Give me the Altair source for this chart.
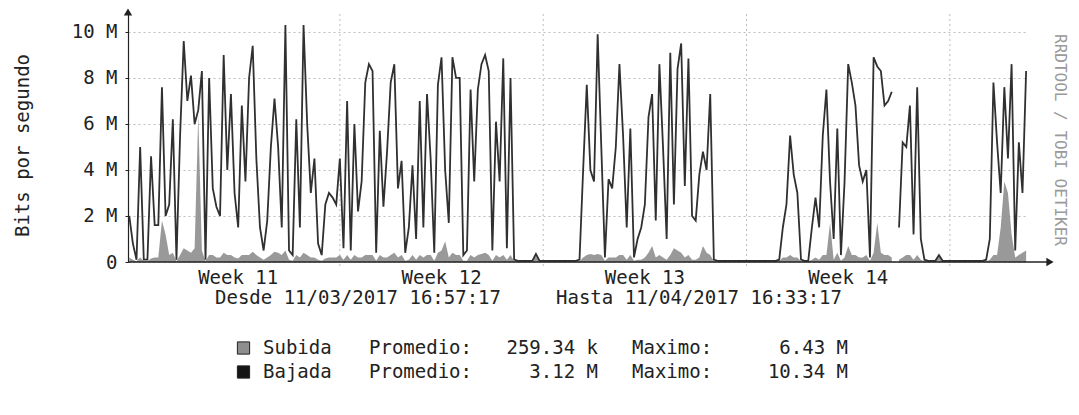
import altair as alt
import pandas as pd

FONT = "DejaVu Sans Mono"
INK = "#222222"

# ---- data (Mbit/s, one sample every 3 hours from 2017-03-11 18:00) ----
first_sample = "2017-03-11 18:00:00"
bajada = [
    2.0, 0.8, 0.1, 5.0, 0.1, 0.1, 4.6, 1.6,
    1.6, 7.6, 2.0, 2.5, 6.2, 0.1, 5.5, 9.6,
    7.0, 8.1, 6.0, 6.6, 8.3, 0.1, 8.0, 3.2,
    2.4, 2.0, 9.0, 4.0, 7.3, 3.0, 1.5, 6.8,
    3.5, 8.0, 9.4, 4.5, 1.5, 0.5, 1.8, 5.0,
    7.1, 5.0, 1.5, 10.3, 0.5, 0.3, 6.2, 1.5,
    10.3, 6.0, 3.0, 4.5, 0.8, 0.3, 2.5, 3.0,
    2.8, 2.5, 4.5, 0.6, 7.0, 0.5, 6.0, 2.2,
    3.5, 7.8, 8.6, 8.3, 0.4, 5.7, 2.4, 4.8,
    7.8, 8.6, 3.2, 4.4, 0.4, 1.5, 4.2, 1.0,
    7.0, 1.5, 7.3, 4.5, 0.4, 7.7, 8.9, 4.0,
    1.7, 8.9, 8.0, 8.0, 0.3, 0.5, 7.5, 3.5,
    7.5, 8.6, 9.0, 8.3, 0.5, 6.1, 3.5, 8.85,
    0.6, 8.0, 0.1, 0.05, 0.05, 0.05, 0.05, 0.05,
    0.35, 0.05, 0.05, 0.05, 0.05, 0.05, 0.05, 0.05,
    0.05, 0.05, 0.05, 0.05, 0.1, 4.0, 7.7, 4.0,
    3.5, 9.9, 5.0, 0.2, 3.6, 3.2, 5.0, 8.6,
    5.5, 1.5, 5.8, 0.2, 1.0, 1.5, 2.5, 6.3,
    7.3, 1.8, 8.6, 5.0, 1.0, 9.1, 2.5, 8.4,
    9.5, 3.3, 8.85, 2.0, 1.8, 3.8, 4.8, 4.0,
    7.3, 0.1, 0.05, 0.05, 0.05, 0.05, 0.05, 0.05,
    0.05, 0.05, 0.05, 0.05, 0.05, 0.05, 0.05, 0.05,
    0.05, 0.05, 0.05, 0.1, 1.5, 2.5, 5.5, 3.8,
    3.0, 0.1, 0.05, 0.05, 1.5, 2.8, 1.5, 5.5,
    7.5, 3.5, 1.0, 5.8, 0.3, 3.5, 8.6, 7.8,
    6.8, 4.2, 3.5, 4.0, 0.2, 8.9, 8.5, 8.3,
    6.8, 7.0, 7.4, None, 1.5, 5.2, 5.0, 6.8,
    1.2, 7.6, 1.0, 0.1, 0.05, 0.05, 0.05, 0.3,
    0.05, 0.05, 0.05, 0.05, 0.05, 0.05, 0.05, 0.05,
    0.05, 0.05, 0.05, 0.05, 0.1, 1.0, 7.8, 5.2,
    3.0, 7.6, 4.5, 8.6, 0.5, 5.2, 3.0, 8.3,
]
subida = [
    0.2, 0.1, 0.03, 0.2, 0.03, 0.03, 0.15, 0.2,
    0.2, 1.8, 1.2, 0.3, 0.4, 0.03, 0.3, 0.6,
    0.5, 0.4, 0.6, 6.4, 0.5, 0.03, 0.3, 0.3,
    0.2, 0.2, 0.4, 0.3, 0.3, 0.2, 0.15, 0.3,
    0.3, 0.3, 0.45, 0.3, 0.2, 0.1, 0.2, 0.3,
    0.45, 0.4, 0.3, 0.5, 0.1, 0.05, 0.3, 0.2,
    0.4, 0.3, 0.2, 0.2, 0.1, 0.05, 0.15, 0.2,
    0.2, 0.2, 0.3, 0.1, 0.3, 0.1, 0.3, 0.2,
    0.2, 0.3, 0.3, 0.3, 0.05, 0.3, 0.2, 0.2,
    0.3, 0.4, 0.2, 0.3, 0.05, 0.1, 0.3, 0.1,
    0.3, 0.2, 0.3, 0.3, 0.05, 0.4, 0.5, 0.9,
    0.2, 0.4, 0.3, 0.3, 0.05, 0.05, 0.3, 0.2,
    0.3, 0.35, 0.4, 0.3, 0.05, 0.3, 0.2, 0.3,
    0.1, 0.3, 0.03, 0.03, 0.03, 0.03, 0.03, 0.03,
    0.3, 0.03, 0.03, 0.03, 0.03, 0.03, 0.03, 0.03,
    0.03, 0.03, 0.03, 0.03, 0.03, 0.2, 0.3, 0.35,
    0.3, 0.35, 0.3, 0.05, 0.2, 0.2, 0.2, 0.3,
    0.3, 0.1, 0.3, 0.05, 0.1, 0.1, 0.2, 0.4,
    0.7, 0.2, 0.3, 0.2, 0.1, 0.3, 0.6, 0.5,
    0.4, 0.2, 0.3, 0.1, 0.1, 0.2, 0.7, 0.4,
    0.3, 0.03, 0.03, 0.03, 0.03, 0.03, 0.03, 0.03,
    0.03, 0.03, 0.03, 0.03, 0.03, 0.03, 0.03, 0.03,
    0.03, 0.03, 0.03, 0.03, 0.2, 0.2, 0.3, 0.2,
    0.2, 0.03, 0.03, 0.03, 0.1, 0.2, 0.1, 0.3,
    0.3, 1.7, 0.1, 0.4, 0.05, 0.2, 0.7, 0.3,
    0.3, 0.2, 0.2, 0.3, 0.05, 0.4, 1.7, 0.4,
    0.3, 0.3, 0.2, None, 0.1, 0.2, 0.3, 0.3,
    0.1, 0.3, 0.1, 0.03, 0.03, 0.03, 0.03, 0.3,
    0.03, 0.03, 0.03, 0.03, 0.03, 0.03, 0.03, 0.03,
    0.03, 0.03, 0.03, 0.03, 0.03, 0.1, 0.3, 0.3,
    1.5, 3.5, 3.0, 1.2, 0.2, 0.3, 0.4, 0.5,
]

week_labels = ["Week 11", "Week 12", "Week 13", "Week 14"]
week_centers = ["2017-03-15 12:00", "2017-03-22 12:00", "2017-03-29 12:00", "2017-04-05 12:00"]
sundays = ["2017-03-19", "2017-03-26", "2017-04-02", "2017-04-09"]
y_ticks = [0, 2, 4, 6, 8, 10]

series_names = ["Subida", "Bajada"]
series_colors = ["#8e8e8e", "#151515"]
promedio = ["259.34 k", "3.12 M"]
maximo = ["6.43 M", "10.34 M"]
period_texts = ["Desde 11/03/2017 16:57:17", "Hasta 11/04/2017 16:33:17"]
watermark = ["RRDTOOL / TOBI OETIKER"]

# ---- tables ----
times = pd.date_range(first_sample, periods=len(bajada), freq="3h")
df = pd.DataFrame({"t": times, "Bajada": bajada, "Subida": subida})
weeks_df = pd.DataFrame({"center": pd.to_datetime(week_centers), "label": week_labels})
sun_df = pd.DataFrame({"t": pd.to_datetime(sundays)})
legend_df = pd.DataFrame({"name": series_names, "prom": promedio, "maxv": maximo})
one = pd.DataFrame({"d": [0]})

W, H = 900, 248
xscale = alt.Scale(domain=[
    alt.DateTime(year=2017, month=3, date=11, hours=16, minutes=57, seconds=17),
    alt.DateTime(year=2017, month=4, date=11, hours=16, minutes=33, seconds=17),
])
yscale = alt.Scale(domain=[0, 10.78], nice=False, zero=True)
yaxis = alt.Axis(
    values=y_ticks,
    labelExpr="datum.value == 0 ? '0\u00a0\u00a0' : datum.value + ' M'",
    grid=True, gridColor="#bdbdbd", gridDash=[2, 3], gridWidth=1,
    domainColor=INK, domainWidth=1.2, tickColor=INK, tickSize=3,
    labelFont=FONT, labelFontSize=19, labelColor=INK, labelPadding=8,
    title="Bits por segundo", titleFont=FONT, titleFontSize=19,
    titleFontWeight="normal", titleColor=INK, titleX=-106, titleY=131,
    titleAngle=270, titleAlign="center", titleBaseline="middle",
)

area = alt.Chart(df).mark_area(color="#8e8e8e", opacity=0.9).encode(
    x=alt.X("t:T", scale=xscale, axis=None),
    y=alt.Y("Subida:Q", scale=yscale, axis=yaxis),
)
line = alt.Chart(df).mark_line(color="#303030", strokeWidth=1.8).encode(
    x=alt.X("t:T", scale=xscale, axis=None),
    y=alt.Y("Bajada:Q", scale=yscale, axis=yaxis),
)
sun_rules = alt.Chart(sun_df).mark_rule(color="#bdbdbd", strokeDash=[2, 3]).encode(
    x=alt.X("t:T", scale=xscale, axis=None),
    y=alt.value(0), y2=alt.value(H + 4),
)
x_axis_line = alt.Chart(one).mark_rule(color=INK, strokeWidth=1.4).encode(
    x=alt.value(0), x2=alt.value(920), y=alt.value(H),
)
x_arrow = alt.Chart(one).mark_point(shape="triangle-right", filled=True, size=70,
                                     color=INK, opacity=1).encode(
    x=alt.value(922), y=alt.value(H),
)
y_arrow = alt.Chart(one).mark_point(shape="triangle-up", filled=True, size=70,
                                     color=INK, opacity=1).encode(
    x=alt.value(0), y=alt.value(-2),
)
week_text = alt.Chart(weeks_df).mark_text(font=FONT, fontSize=19, color=INK,
                                          baseline="middle").encode(
    x=alt.X("center:T", scale=xscale, axis=None),
    y=alt.value(H + 16),
    text="label:N",
)

period_df = pd.DataFrame({"txt": period_texts})
desde = alt.Chart(period_df.iloc[[0]]).mark_text(font=FONT, fontSize=19, color=INK,
                                                 align="left", baseline="middle").encode(
    x=alt.value(87), y=alt.value(284), text="txt:N")
hasta = alt.Chart(period_df.iloc[[1]]).mark_text(font=FONT, fontSize=19, color=INK,
                                                 align="left", baseline="middle").encode(
    x=alt.value(428), y=alt.value(284), text="txt:N")

wm = alt.Chart(pd.DataFrame({"txt": watermark})).mark_text(
    font=FONT, fontSize=16, color="#9a9a9a", angle=90, baseline="middle", align="center"
).encode(x=alt.value(932), y=alt.value(126), text="txt:N")


def legend_row(i, yv):
    base = alt.Chart(legend_df.iloc[[i]])
    txt = dict(font=FONT, fontSize=19, color=INK, baseline="middle")
    return [
        base.mark_square(size=150, filled=True, color=series_colors[i], stroke=INK,
                         strokeWidth=1, opacity=1).encode(x=alt.value(115.5), y=alt.value(yv)),
        base.mark_text(align="left", **txt).encode(x=alt.value(135), y=alt.value(yv), text="name:N"),
        base.mark_text(align="left", **txt).encode(x=alt.value(241), y=alt.value(yv),
                                                   text=alt.value("Promedio:")),
        base.mark_text(align="right", **txt).encode(x=alt.value(470), y=alt.value(yv), text="prom:N"),
        base.mark_text(align="left", **txt).encode(x=alt.value(504), y=alt.value(yv),
                                                   text=alt.value("Maximo:")),
        base.mark_text(align="right", **txt).encode(x=alt.value(720), y=alt.value(yv), text="maxv:N"),
    ]


layers = [sun_rules, area, line, x_axis_line, x_arrow, y_arrow, week_text, desde, hasta, wm]
layers += legend_row(0, 334)
layers += legend_row(1, 358)

chart = alt.layer(*layers).properties(
    width=W, height=H,
    autosize=alt.AutoSizeParams(type="none"),
    padding={"left": 120, "top": 6, "right": 43, "bottom": 145},
    background="white",
).configure_view(stroke=None)

chart.save("out.html", embed_options={"renderer": "svg", "actions": False})
